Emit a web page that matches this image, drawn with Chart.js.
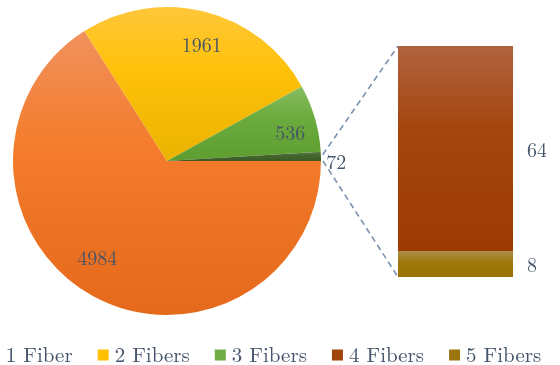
<!DOCTYPE html>
<html>
<head>
<meta charset="utf-8">
<script src="https://cdn.jsdelivr.net/npm/chart.js@4"></script>
<style>
  html, body { margin: 0; padding: 0; background: #fff; }
  #wrap { position: relative; width: 560px; height: 365px; overflow: hidden; }
  #wrap canvas { position: absolute; left: 0; top: 0; }
</style>
</head>
<body>
<div id="wrap">
  <canvas id="pieChart" width="560" height="365"></canvas>
  <canvas id="barChart" width="560" height="365"></canvas>
</div>
<script>
// pie: the last slice groups 4 and 5 fibers, broken out in the bar
const pieLabels = ['1 Fiber', '2 Fibers', '3 Fibers', '4+ Fibers'];
const pieValues = [4984, 1961, 536, 72];
const barLabels = ['4 Fibers', '5 Fibers'];
const barValues = [64, 8];
const legendLabels = ['1 Fiber', '2 Fibers', '3 Fibers', '4 Fibers', '5 Fibers'];

const TEXT = '#44546a';
const FONT = '"Latin Modern Roman", "Liberation Serif", serif';

// [top, mid, bottom] gradient stops
const pieColors = [
    ['#f1915d', '#f47c2c', '#e5691b'],
    ['#ffc73a', '#ffc10a', '#e9b300'],
    ['#89be66', '#6cab3d', '#5e9d2f'],
    ['#5b7b4a', '#45672e', '#3a5a26']
];
const barColors = [
    ['#b0633f', '#a4460e', '#9c3a02'],
    ['#ad8d4a', '#a07a10', '#9b7000']
];
const legendColors = ['#ee8040', '#ffc000', '#70ad47', '#a0440c', '#9c7410'];
// label nudges in px (dx, dy) after placing on the mid angle
const pieLabelNudge = [[-12, -7], [5, 1], [2, 8], [0, 7]];
const pieLabelRadius = [0.78, 0.78, 0.82, 1.1];

const total = pieValues.reduce((a, b) => a + b, 0);

function addStops(g, c) {
    g.addColorStop(0, c[0]);
    g.addColorStop(0.4, c[1]);
    g.addColorStop(1, c[2]);
    return g;
}

function sliceGradient(ctx) {
    const chart = ctx.chart;
    const i = ctx.dataIndex;
    const area = chart.chartArea;
    if (!area || i === undefined) return pieColors[0][1];
    const cx = (area.left + area.right) / 2;
    const cy = (area.top + area.bottom) / 2;
    const r = Math.min(area.width, area.height) / 2;
    let a0 = 0;
    for (let k = 0; k < i; k++) a0 += pieValues[k] / total * 2 * Math.PI;
    const a1 = a0 + pieValues[i] / total * 2 * Math.PI;
    const ys = [cy, cy + r * Math.sin(a0), cy + r * Math.sin(a1)];
    [Math.PI / 2, 3 * Math.PI / 2].forEach(ext => {
        if (a0 < ext && a1 > ext) ys.push(cy + r * Math.sin(ext));
    });
    const g = chart.ctx.createLinearGradient(0, Math.min(...ys), 0, Math.max(...ys));
    return addStops(g, pieColors[i]);
}

const pieLabelPlugin = {
    id: 'pieLabels',
    afterDatasetsDraw(chart) {
        const ctx = chart.ctx;
        const arcs = chart.getDatasetMeta(0).data;
        ctx.save();
        ctx.font = '20px ' + FONT;
        ctx.fillStyle = TEXT;
        ctx.textAlign = 'center';
        ctx.textBaseline = 'middle';
        arcs.forEach((arc, i) => {
            const mid = (arc.startAngle + arc.endAngle) / 2;
            const rr = arc.outerRadius * pieLabelRadius[i];
            const x = arc.x + Math.cos(mid) * rr + pieLabelNudge[i][0];
            const y = arc.y + Math.sin(mid) * rr + pieLabelNudge[i][1];
            ctx.fillText(String(pieValues[i]), x, y);
        });
        ctx.restore();
    }
};

const pieChart = new Chart(document.getElementById('pieChart'), {
    type: 'pie',
    data: {
        labels: pieLabels,
        datasets: [{
            data: pieValues,
            backgroundColor: sliceGradient,
            borderWidth: 0,
            hoverOffset: 0
        }]
    },
    options: {
        responsive: false,
        animation: false,
        rotation: 90,
        layout: { padding: { left: 13, top: 7, right: 239, bottom: 50 } },
        plugins: {
            legend: { display: false },
            tooltip: { enabled: false }
        }
    },
    plugins: [pieLabelPlugin]
});

function barGradient(ctx) {
    const chart = ctx.chart;
    const di = ctx.datasetIndex;
    const idx = barLabels.length - 1 - di;  // datasets are stacked bottom-up
    const y = chart.scales && chart.scales.y;
    if (!chart.chartArea || !y) return barColors[idx][1];
    let base = 0;
    for (let k = 0; k < di; k++) base += chart.data.datasets[k].data[0];
    const top = base + chart.data.datasets[di].data[0];
    const g = chart.ctx.createLinearGradient(0, y.getPixelForValue(top), 0, y.getPixelForValue(base));
    return addStops(g, barColors[idx]);
}

const barExtrasPlugin = {
    id: 'barExtras',
    afterDatasetsDraw(chart) {
        const ctx = chart.ctx;
        const n = chart.data.datasets.length;
        const bottomBar = chart.getDatasetMeta(0).data[0];
        const topBar = chart.getDatasetMeta(n - 1).data[0];
        const left = bottomBar.x - bottomBar.width / 2;
        const right = bottomBar.x + bottomBar.width / 2;

        // connectors from the grouped pie slice
        const arc = pieChart.getDatasetMeta(0).data[pieValues.length - 1];
        const p1 = [arc.x + Math.cos(arc.startAngle) * arc.outerRadius, arc.y + Math.sin(arc.startAngle) * arc.outerRadius];
        const p2 = [arc.x + Math.cos(arc.endAngle) * arc.outerRadius, arc.y + Math.sin(arc.endAngle) * arc.outerRadius];
        ctx.save();
        ctx.strokeStyle = '#8196b1';
        ctx.lineWidth = 1.7;
        ctx.setLineDash([6, 4]);
        ctx.beginPath();
        ctx.moveTo(p1[0] + 2, p1[1] + 3);
        ctx.lineTo(left, topBar.y);
        ctx.moveTo(p2[0] + 2, p2[1]);
        ctx.lineTo(left, bottomBar.base);
        ctx.stroke();
        ctx.restore();

        // value labels to the right of each segment
        ctx.save();
        ctx.font = '20px ' + FONT;
        ctx.fillStyle = TEXT;
        ctx.textAlign = 'left';
        ctx.textBaseline = 'middle';
        chart.data.datasets.forEach((ds, di) => {
            const bar = chart.getDatasetMeta(di).data[0];
            ctx.fillText(String(ds.data[0]), right + 14, (bar.y + bar.base) / 2 + 2);
        });
        ctx.restore();

        // legend along the bottom
        ctx.save();
        ctx.font = '21px ' + FONT;
        ctx.textBaseline = 'middle';
        const box = 11, boxGap = 6, itemGap = 25;
        const widths = legendLabels.map(t => box + boxGap + ctx.measureText(t).width);
        const totalW = widths.reduce((a, b) => a + b, 0) + itemGap * (legendLabels.length - 1);
        let x = 265 - totalW / 2;
        const ly = 355;
        legendLabels.forEach((t, i) => {
            ctx.fillStyle = legendColors[i];
            ctx.fillRect(x, ly - box / 2, box, box);
            ctx.fillStyle = TEXT;
            ctx.fillText(t, x + box + boxGap, ly + 1);
            x += widths[i] + itemGap;
        });
        ctx.restore();
    }
};

const stackOrder = barLabels.map((l, i) => i).reverse();

new Chart(document.getElementById('barChart'), {
    type: 'bar',
    data: {
        labels: ['4+ Fibers'],
        datasets: stackOrder.map(i => ({
            label: barLabels[i],
            data: [barValues[i]],
            backgroundColor: barGradient,
            borderWidth: 0,
            barPercentage: 1,
            categoryPercentage: 1
        }))
    },
    options: {
        responsive: false,
        animation: false,
        layout: { padding: { left: 398, right: 47, top: 46, bottom: 88 } },
        scales: {
            x: { display: false, stacked: true },
            y: { display: false, stacked: true, min: 0, max: 72 }
        },
        plugins: {
            legend: { display: false },
            tooltip: { enabled: false }
        }
    },
    plugins: [barExtrasPlugin]
});
</script>
</body>
</html>
